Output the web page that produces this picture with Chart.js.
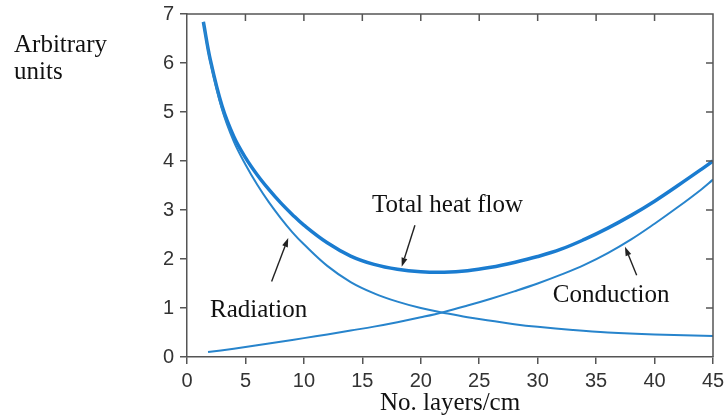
<!DOCTYPE html>
<html>
<head>
<meta charset="utf-8">
<script src="https://cdn.jsdelivr.net/npm/chart.js@4"></script>
<style>
  html, body { margin: 0; padding: 0; background: #fff; }
  canvas { display: block; }
</style>
</head>
<body>
<canvas id="heat" width="724" height="418"></canvas>
<script>
// values (x = layers/cm, y = arbitrary units)
const radX = [1.4, 2, 3, 4, 5, 6, 7, 8, 9, 10, 12, 14, 16, 18, 20, 22, 24, 26, 28, 30, 33, 36, 40, 45];
const radY = [6.84, 6.02, 5.05, 4.40, 3.93, 3.52, 3.16, 2.84, 2.55, 2.3, 1.86, 1.53, 1.3, 1.13, 1.0, 0.9, 0.81, 0.74, 0.67, 0.615, 0.55, 0.5, 0.46, 0.43];

const condX = [1.8, 4, 6, 8, 10, 12, 14, 16, 18, 20, 22, 24, 26, 28, 30, 32, 34, 36, 38, 40, 42, 44, 45];
const condY = [0.1, 0.17, 0.24, 0.31, 0.385, 0.46, 0.54, 0.62, 0.71, 0.81, 0.92, 1.05, 1.19, 1.34, 1.5, 1.68, 1.88, 2.12, 2.4, 2.72, 3.06, 3.42, 3.62];

const totalX = [1.4, 2, 3, 4, 5, 6, 7, 8, 9, 10, 12, 14, 16, 18, 20, 22, 24, 26, 28, 30, 32, 34, 36, 38, 40, 42, 44, 45];
const totalY = [6.84, 6.06, 5.12, 4.5, 4.07, 3.72, 3.42, 3.15, 2.91, 2.69, 2.33, 2.06, 1.89, 1.79, 1.74, 1.73, 1.76, 1.83, 1.93, 2.05, 2.2, 2.4, 2.63, 2.89, 3.18, 3.5, 3.83, 4.0];

const xTicks = [0, 5, 10, 15, 20, 25, 30, 35, 40, 45];
const yTicks = [0, 1, 2, 3, 4, 5, 6, 7];

const xTitle = "No. layers/cm";
const yTitle = ["Arbitrary", "units"];

// labels and arrows, placed in data units
const labelText = ["Total heat flow", "Radiation", "Conduction"];
const labelAt = [[15.83, 2.96], [1.97, 0.82], [31.3, 1.12]];
const arrowFrom = [[19.5, 2.69], [7.24, 1.54], [38.47, 1.67]];
const arrowTo = [[18.37, 1.84], [8.66, 2.43], [37.47, 2.25]];

const pts = (xs, ys) => xs.map((x, i) => ({ x: x, y: ys[i] }));

const serif = "'Liberation Serif', 'Times New Roman', serif";
const sans = "'Liberation Sans', Arial, sans-serif";
const frameColor = "#555";

// frame with inward ticks on top/right, labels, arrows
const extras = {
  id: "extras",
  afterDraw(chart) {
    const ctx = chart.ctx;
    const a = chart.chartArea;
    const xs = chart.scales.x;
    const ys = chart.scales.y;
    ctx.save();
    ctx.strokeStyle = frameColor;
    ctx.lineWidth = 1.5;
    ctx.beginPath();
    ctx.moveTo(a.left, a.top);
    ctx.lineTo(a.right, a.top);
    ctx.lineTo(a.right, a.bottom);
    ctx.stroke();
    ctx.beginPath();
    xTicks.slice(1, -1).forEach((v) => {
      const px = xs.getPixelForValue(v);
      ctx.moveTo(px, a.top);
      ctx.lineTo(px, a.top + 7);
    });
    yTicks.slice(1, -1).forEach((v) => {
      const py = ys.getPixelForValue(v);
      ctx.moveTo(a.right, py);
      ctx.lineTo(a.right - 7, py);
    });
    ctx.stroke();

    // y title, horizontal at top left
    ctx.fillStyle = "#111";
    ctx.font = "25px " + serif;
    ctx.textAlign = "left";
    ctx.textBaseline = "alphabetic";
    ctx.fillText(yTitle[0], 14, 52);
    ctx.fillText(yTitle[1], 14, 79);

    // curve labels
    labelText.forEach((t, i) => {
      ctx.fillText(t, xs.getPixelForValue(labelAt[i][0]), ys.getPixelForValue(labelAt[i][1]));
    });

    // arrows
    ctx.strokeStyle = "#222";
    ctx.fillStyle = "#222";
    ctx.lineWidth = 1.4;
    arrowFrom.forEach((f, i) => {
      const x0 = xs.getPixelForValue(f[0]), y0 = ys.getPixelForValue(f[1]);
      const x1 = xs.getPixelForValue(arrowTo[i][0]), y1 = ys.getPixelForValue(arrowTo[i][1]);
      const ang = Math.atan2(y1 - y0, x1 - x0);
      const len = 9, wid = 3;
      const bx = x1 - len * Math.cos(ang), by = y1 - len * Math.sin(ang);
      ctx.beginPath();
      ctx.moveTo(x0, y0);
      ctx.lineTo(bx, by);
      ctx.stroke();
      ctx.beginPath();
      ctx.moveTo(x1, y1);
      ctx.lineTo(bx + wid * Math.sin(ang), by - wid * Math.cos(ang));
      ctx.lineTo(bx - wid * Math.sin(ang), by + wid * Math.cos(ang));
      ctx.closePath();
      ctx.fill();
    });
    ctx.restore();
  },
};

new Chart(document.getElementById("heat"), {
  type: "line",
  data: {
    datasets: [
      {
        label: "Radiation",
        data: pts(radX, radY),
        borderColor: "#2784cc",
        borderWidth: 2,
        pointRadius: 0,
        tension: 0.4,
      },
      {
        label: "Conduction",
        data: pts(condX, condY),
        borderColor: "#2784cc",
        borderWidth: 2,
        pointRadius: 0,
        tension: 0.4,
      },
      {
        label: "Total heat flow",
        data: pts(totalX, totalY),
        borderColor: "#1a7cd0",
        borderWidth: 3.5,
        pointRadius: 0,
        tension: 0.4,
      },
    ],
  },
  options: {
    responsive: false,
    animation: false,
    layout: { padding: { left: 137, right: 11, top: 14, bottom: 0 } },
    plugins: {
      legend: { display: false },
      tooltip: { enabled: false },
    },
    scales: {
      x: {
        type: "linear",
        min: 0,
        max: 45,
        afterBuildTicks: (s) => { s.ticks = xTicks.map((v) => ({ value: v })); },
        afterFit: (s) => { s.height = 61; s.paddingLeft = 0; s.paddingRight = 0; },
        ticks: { color: "#333", font: { family: sans, size: 20 }, padding: 5, maxRotation: 0 },
        grid: { drawOnChartArea: false, tickLength: 7, color: frameColor, lineWidth: 1.5 },
        border: { color: frameColor, width: 1.5 },
        title: { display: true, text: xTitle, color: "#111", font: { family: serif, size: 25 }, padding: { top: 3, bottom: 0 } },
      },
      y: {
        min: 0,
        max: 7,
        afterBuildTicks: (s) => { s.ticks = yTicks.map((v) => ({ value: v })); },
        afterFit: (s) => { s.width = 50; s.paddingTop = 0; s.paddingBottom = 0; },
        ticks: { color: "#333", font: { family: sans, size: 20 }, padding: 6 },
        grid: { drawOnChartArea: false, tickLength: 7, color: frameColor, lineWidth: 1.5 },
        border: { color: frameColor, width: 1.5 },
      },
    },
  },
  plugins: [extras],
});
</script>
</body>
</html>
